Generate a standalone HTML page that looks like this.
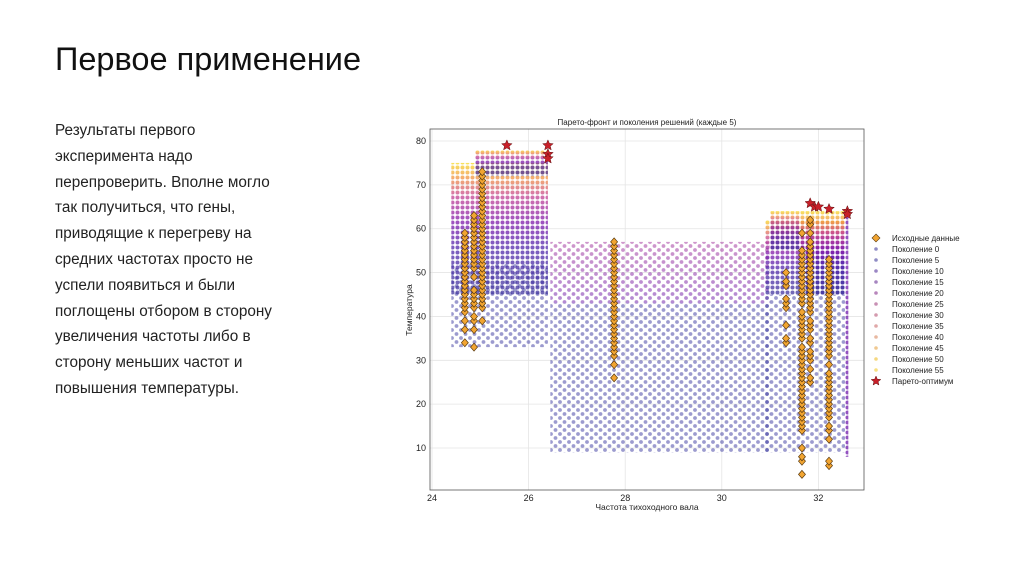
<!DOCTYPE html>
<html><head><meta charset="utf-8">
<style>
body{margin:0;width:1024px;height:574px;background:#fff;overflow:hidden;font-family:"Liberation Sans","Noto Sans CJK SC",sans-serif;position:relative}
h1{position:absolute;left:55px;top:41px;margin:0;font-weight:400;font-size:32.5px;color:#111}
#txt{position:absolute;left:55px;top:118px;width:250px;font-size:15.3px;line-height:25.8px;color:#222}
svg{position:absolute;left:0;top:0}
</style></head><body>
<h1>Первое применение</h1>
<div id="txt">Результаты первого<br>эксперимента надо<br>перепроверить. Вполне могло<br>так получиться, что гены,<br>приводящие к перегреву на<br>средних частотах просто не<br>успели появиться и были<br>поглощены отбором в сторону<br>увеличения частоты либо в<br>сторону меньших частот и<br>повышения температуры.</div>
<svg id="ch" width="1024" height="574" font-family="Liberation Sans, DejaVu Sans, sans-serif">
<defs>
<pattern id="dots" width="5" height="5" patternUnits="userSpaceOnUse"><circle cx="2.5" cy="2.5" r="2" fill="#fff"/></pattern>
<pattern id="dotsS" width="9" height="8" patternUnits="userSpaceOnUse"><circle cx="2" cy="2" r="1.9" fill="#fff"/><circle cx="6.5" cy="6" r="1.9" fill="#fff"/></pattern>
<mask id="m1"><rect x="0" y="0" width="1024" height="574" fill="url(#dots)"/></mask>
<mask id="m2"><rect x="0" y="0" width="1024" height="574" fill="url(#dotsS)"/></mask>
<linearGradient id="gL" x1="0" y1="1" x2="0" y2="0"><stop offset="0" stop-color="#3b2f9c"/><stop offset="0.35" stop-color="#4a1fa8"/><stop offset="0.55" stop-color="#7a10a8"/><stop offset="0.75" stop-color="#c33d8e"/><stop offset="0.88" stop-color="#f08a3c"/><stop offset="1" stop-color="#f7d81f"/></linearGradient>
<linearGradient id="gP" x1="0" y1="1" x2="0" y2="0"><stop offset="0" stop-color="#6a18a8"/><stop offset="1" stop-color="#a0309a"/></linearGradient>
</defs>
<g id="grid"></g><g id="clouds"></g><g id="marks"></g><g id="axes"></g>
</svg>
<script>
const xTicks=[24,26,28,30,32];
const yTicks=[10,20,30,40,50,60,70,80];
// cloud regions: [xmin,xmax,ymin,ymax]
const cloudX0=[24.4,24.4,24.9,26.45,26.45,30.9,31.0,31.6,32.55,30.9];
const cloudX1=[26.4,26.4,26.4,31.0,31.0,32.55,31.6,32.55,32.62,32.55];
const cloudY0=[33,45,72,9,43,45,55,45,8,9];
const cloudY1=[52,75,78,43,57,62,64,64,63,45];
const cloudFill=["#3b3aa0","url(#gL)","url(#gL)","#3b3aa0","url(#gP)","url(#gL)","url(#gL)","url(#gL)","#6a10a8","#3b3aa0"];
const cloudDense=[0,1,1,0,0,1,1,1,1,0];
const colX=[24.68,24.87,25.04,27.77,31.33,31.66,31.83,32.22];
const colVals=[
[34,37,39,41,42,43,44,45,46,47,48,49,50,51,52,53,54,55,56,57,58,59],
[33,37,39,40,42,43,44,45,46,49,51,52,53,54,55,56,57,58,59,60,61,62,63],
[39,42,43,44,45,46,47,48,49,50,51,52,53,54,55,56,57,58,59,60,61,62,63,64,65,66,67,68,69,70,71,72,73],
[26,29,31,32,33,34,35,36,37,38,39,40,41,42,43,44,45,46,47,48,49,50,51,52,53,54,55,56,57],
[34,35,38,42,43,44,47,48,50],
[4,7,8,10,14,15,16,17,18,19,20,21,22,23,24,25,26,27,28,29,30,31,32,33,35,36,37,38,39,40,41,43,44,45,46,47,48,49,50,51,52,53,54,55,59],
[25,26,28,30,31,32,34,35,37,38,39,41,42,43,44,45,46,47,48,49,50,51,52,53,54,55,56,57,59,61,62],
[6,7,12,14,15,17,18,19,20,21,22,23,24,25,26,27,29,31,32,33,34,35,36,37,38,39,40,41,42,43,44,45,46,47,48,49,50,51,52,53]];
const starX=[25.55,26.4,26.4,26.4,31.83,31.92,32.0,32.22,32.6,32.6];
const starY=[79,79,77,76,65.8,65,65,64.5,64,63.3];
const legendLabels=["Исходные данные","Поколение 0","Поколение 5","Поколение 10","Поколение 15","Поколение 20","Поколение 25","Поколение 30","Поколение 35","Поколение 40","Поколение 45","Поколение 50","Поколение 55","Парето-оптимум"];
const legendColors=["#f0a030","#8f8cc4","#8f8cc4","#9a86c4","#a685c0","#b886bc","#c890b4","#d49aae","#e0a8a8","#e8b8a0","#f0c890","#f5d880","#f8e080","#c0202a"];
const NS="http://www.w3.org/2000/svg";
const L=430,R=864,T=129,B=490;
function sx(v){return 432+(v-24)*48.3;}
function sy(v){return 141+(80-v)*4.386;}
function mk(t,a,p){const e=document.createElementNS(NS,t);for(const k in a)e.setAttribute(k,a[k]);(p||document.getElementById('ch')).appendChild(e);return e;}
const grid=document.getElementById('grid'),clouds=document.getElementById('clouds'),marks=document.getElementById('marks'),axes=document.getElementById('axes');
mk('rect',{x:L,y:T,width:R-L,height:B-T,fill:'#fff'},grid);
xTicks.forEach(v=>{const l=mk('line',{x1:sx(v),x2:sx(v),y1:T,y2:B,stroke:'#e4e4e4','stroke-width':0.8},grid);});
yTicks.forEach(v=>{const l=mk('line',{x1:L,x2:R,y1:sy(v),y2:sy(v),stroke:'#e4e4e4','stroke-width':0.8},grid);});
cloudX0.forEach((x0,i)=>{
 const r=mk('rect',{x:sx(x0),y:sy(cloudY1[i]),width:sx(cloudX1[i])-sx(x0),height:sy(cloudY0[i])-sy(cloudY1[i]),fill:cloudFill[i],mask:cloudDense[i]?'url(#m1)':'url(#m2)',opacity:cloudDense[i]?0.72:0.5},clouds);
 
 
});
colX.forEach((x,i)=>{colVals[i].forEach(v=>{
 const cx=sx(x),cy=sy(v);
 const d=mk('polygon',{points:`${cx},${cy-4} ${cx+3.5},${cy} ${cx},${cy+4} ${cx-3.5},${cy}`,fill:'#f2a531',stroke:'#5a3a10','stroke-width':0.7},marks);
 
 
});});
function star(cx,cy,r,p){let pts=[];for(let k=0;k<10;k++){const a=-Math.PI/2+k*Math.PI/5,rr=k%2?r*0.45:r;pts.push((cx+rr*Math.cos(a)).toFixed(1)+','+(cy+rr*Math.sin(a)).toFixed(1));}return mk('polygon',{points:pts.join(' '),fill:'#c8202a',stroke:'#601010','stroke-width':0.5},p);}
starX.forEach((x,i)=>{const s=star(sx(x),sy(starY[i]),5.5,marks);});
mk('rect',{x:L,y:T,width:R-L,height:B-T,fill:'none',stroke:'#555','stroke-width':0.8},axes);
xTicks.forEach(v=>{const t=mk('text',{x:sx(v),y:B+11,'font-size':9,'text-anchor':'middle',fill:'#222'},axes);t.textContent=v;});
yTicks.forEach(v=>{const t=mk('text',{x:L-4,y:sy(v)+3,'font-size':9,'text-anchor':'end',fill:'#222'},axes);t.textContent=v;});
let t=mk('text',{x:647,y:510,'font-size':8.5,'text-anchor':'middle',fill:'#222'},axes);t.textContent='Частота тихоходного вала';
t=mk('text',{x:0,y:0,'font-size':8.5,'text-anchor':'middle',fill:'#222',transform:'translate(412,310) rotate(-90)'},axes);t.textContent='Температура';
t=mk('text',{x:647,y:125,'font-size':8,'text-anchor':'middle',fill:'#222'},axes);t.textContent='Парето-фронт и поколения решений (каждые 5)';
legendLabels.forEach((lab,i)=>{
 const y=238+i*11;
 let m;
 if(i==0){m=mk('polygon',{points:`876,${y-4} 880,${y} 876,${y+4} 872,${y}`,fill:'#f2a531',stroke:'#5a3a10','stroke-width':0.6},axes);}
 else if(i==13){m=star(876,y,5,axes);}
 else{m=mk('circle',{cx:876,cy:y,r:1.8,fill:legendColors[i]},axes);}
 
 
 const tx=mk('text',{x:892,y:y+3,'font-size':8,fill:'#222'},axes);tx.textContent=lab;
 
 
});
</script>
</body></html>
